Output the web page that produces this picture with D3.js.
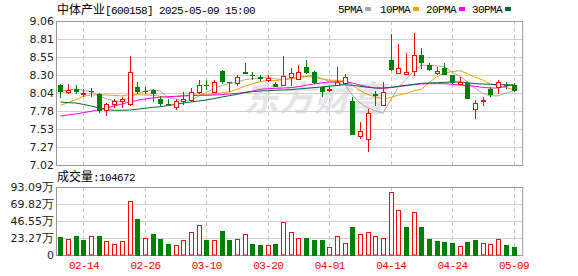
<!DOCTYPE html>
<html>
<head>
<meta charset="utf-8">
<script src="https://cdn.jsdelivr.net/npm/d3@7"></script>
<style>
  body { margin: 0; background: #fff; }
  svg { display: block; }
</style>
</head>
<body>
<svg class="chart"></svg>
<script>
// trading days shown (60 sessions)
var dates = ["02-11","02-12","02-13","02-14","02-17","02-18","02-19","02-20","02-21","02-24",
  "02-25","02-26","02-27","02-28","03-03","03-04","03-05","03-06","03-07","03-10",
  "03-11","03-12","03-13","03-14","03-17","03-18","03-19","03-20","03-21","03-24",
  "03-25","03-26","03-27","03-28","03-31","04-01","04-02","04-03","04-07","04-08",
  "04-09","04-10","04-11","04-14","04-15","04-16","04-17","04-18","04-21","04-22",
  "04-23","04-24","04-25","04-28","04-29","04-30","05-06","05-07","05-08","05-09"];

var openP = [8.16,8.05,8.10,8.02,8.07,8.03,7.80,7.89,7.92,7.88,
  8.12,8.07,8.08,7.96,7.89,7.84,7.93,7.94,8.06,8.15,
  8.06,8.35,8.19,8.18,8.34,8.30,8.27,8.22,8.17,8.16,
  8.27,8.24,8.41,8.34,8.12,8.08,8.15,8.18,7.93,7.43,
  7.39,8.02,7.87,8.51,8.33,8.31,8.35,8.58,8.43,8.32,
  8.40,8.29,8.17,8.18,7.82,7.92,8.09,8.12,8.16,8.16];
var highP = [8.17,8.17,8.16,8.10,8.11,8.04,7.90,7.96,7.99,8.56,
  8.20,8.13,8.10,8.00,7.96,7.96,8.06,8.11,8.23,8.22,
  8.23,8.36,8.20,8.29,8.46,8.34,8.30,8.30,8.20,8.56,
  8.39,8.43,8.51,8.35,8.14,8.14,8.41,8.31,7.98,7.63,
  7.81,8.07,8.20,8.87,8.74,8.61,8.89,8.68,8.47,8.41,
  8.46,8.30,8.27,8.20,7.94,7.98,8.12,8.23,8.20,8.18];
var lowP = [7.97,8.03,8.02,7.99,7.98,7.75,7.72,7.83,7.83,7.86,
  8.03,8.02,7.91,7.86,7.85,7.80,7.87,7.91,8.02,8.08,
  8.04,8.17,8.05,8.14,8.31,8.23,8.21,8.20,8.12,8.14,
  8.14,8.23,8.31,8.17,7.99,8.06,8.14,8.17,7.44,7.39,
  7.20,7.86,7.85,8.35,8.31,8.29,8.28,8.38,8.35,8.29,
  8.29,8.17,8.16,7.96,7.67,7.86,7.99,8.03,8.10,8.06];
var closeP = [8.06,8.08,8.06,8.04,8.05,7.78,7.88,7.92,7.96,8.34,
  8.05,8.06,8.02,7.89,7.87,7.93,7.95,8.06,8.16,8.14,
  8.20,8.19,8.18,8.27,8.31,8.28,8.24,8.25,8.12,8.28,
  8.32,8.34,8.33,8.18,8.06,8.10,8.20,8.27,7.44,7.50,
  7.76,8.00,8.06,8.37,8.39,8.34,8.58,8.47,8.37,8.35,
  8.30,8.18,8.19,7.96,7.90,7.94,8.01,8.20,8.14,8.07];

// volume, 万手
var volume = [24.5,21.8,25.9,20.4,25.4,25.9,19.1,14.5,19.1,74.5,
  49.1,22.7,28.6,21.8,15.0,13.2,20.4,31.3,40.4,20.4,
  20.4,32.7,20.4,21.8,28.6,15.0,13.6,13.2,15.0,45.0,
  31.3,22.7,23.2,20.4,20.4,10.4,25.4,15.9,38.2,28.6,
  31.3,25.4,22.7,86.8,62.2,38.2,59.5,38.2,21.8,19.1,
  17.7,16.4,11.8,17.7,20.4,15.9,14.5,21.4,13.6,10.4672];

var ma5 = [8.064,8.083,8.097,8.078,8.056,7.999,7.959,7.931,7.916,7.975,
  8.029,8.065,8.084,8.071,7.978,7.954,7.932,7.941,7.994,8.047,
  8.100,8.148,8.171,8.193,8.228,8.243,8.254,8.269,8.239,8.233,
  8.242,8.261,8.278,8.290,8.248,8.203,8.175,8.162,8.013,7.900,
  7.832,7.792,7.752,7.939,8.117,8.234,8.351,8.433,8.433,8.423,
  8.415,8.335,8.278,8.197,8.107,8.034,8.000,8.001,8.037,8.071];
var ma10 = [7.865,7.903,7.946,7.993,8.012,8.012,8.012,8.007,7.998,8.016,
  8.014,8.012,8.008,7.994,7.976,7.991,7.999,8.013,8.032,8.012,
  8.027,8.040,8.056,8.093,8.137,8.172,8.201,8.220,8.216,8.230,
  8.243,8.258,8.273,8.265,8.240,8.223,8.218,8.220,8.152,8.074,
  8.018,7.984,7.957,7.976,8.009,8.033,8.072,8.092,8.186,8.270,
  8.325,8.343,8.356,8.315,8.265,8.225,8.168,8.140,8.117,8.089];
var ma20 = [7.714,7.728,7.743,7.762,7.780,7.804,7.828,7.856,7.884,7.913,
  7.936,7.955,7.969,7.979,7.988,7.993,7.998,8.002,8.007,8.007,
  8.012,8.016,8.026,8.035,8.049,8.068,8.092,8.101,8.106,8.111,
  8.116,8.130,8.149,8.168,8.182,8.196,8.200,8.200,8.182,8.153,
  8.130,8.111,8.106,8.116,8.130,8.144,8.158,8.168,8.172,8.172,
  8.172,8.163,8.153,8.144,8.135,8.120,8.111,8.111,8.135,8.158];
var ma30 = [7.913,7.903,7.898,7.879,7.856,7.828,7.804,7.795,7.795,7.799,
  7.809,7.823,7.837,7.846,7.861,7.879,7.898,7.913,7.927,7.941,
  7.960,7.983,8.002,8.021,8.045,8.059,8.068,8.073,8.078,8.083,
  8.087,8.097,8.106,8.116,8.125,8.135,8.149,8.158,8.149,8.135,
  8.120,8.111,8.111,8.120,8.135,8.149,8.163,8.177,8.182,8.186,
  8.191,8.196,8.196,8.186,8.172,8.168,8.163,8.158,8.158,8.153];

var priceTicks = [9.06, 8.805, 8.55, 8.295, 8.04, 7.785, 7.53, 7.275, 7.02];
var priceLabels = ["9.06","8.81","8.55","8.30","8.04","7.78","7.53","7.27","7.02"];
var volTicks = [93.09, 69.82, 46.55, 23.27, 0];
var volLabels = ["93.09","69.82","46.55","23.27","0"];
var dateTicks = ["02-14","02-26","03-10","03-20","04-01","04-14","04-24","05-09"];

var maNames = ["5PMA","10PMA","20PMA","30PMA"];
var maColors = ["#a8a8a8","#f0a000","#ff00ff","#006a2c"];

var RED = "#ff0000", GREEN = "#008000";
var W = 578, H = 276;
var left = 56, right = 522.7;

var svg = d3.select(".chart").attr("width", W).attr("height", H);

var x = d3.scalePoint().domain(dates).range([60.4, 513.5]);
var y = d3.scaleLinear().domain([7.02, 9.06]).range([165, 21]);
var yv = d3.scaleLinear().domain([0, 93.09]).range([255, 187]);

var px = d => Math.round(x(d));
var crisp = v => Math.round(v) + 0.5;

// watermark
svg.append("text")
  .attr("transform", "translate(244,111) skewX(-14)")
  .attr("font-family", "Noto Sans CJK SC")
  .attr("font-weight", "bold")
  .attr("font-size", 35)
  .attr("fill", "#e4e4e8")
  .text("东方财富");

// ----- price grid -----
var grid = svg.append("g");
grid.selectAll(".hg").data(priceTicks).enter().append("line")
  .attr("x1", left).attr("x2", right)
  .attr("y1", d => crisp(y(d))).attr("y2", d => crisp(y(d)))
  .attr("stroke", "#d0d0d0");
grid.selectAll(".vg").data(dateTicks).enter().append("line")
  .attr("x1", d => px(d) + 0.5).attr("x2", d => px(d) + 0.5)
  .attr("y1", 21).attr("y2", 165)
  .attr("stroke", "#c8c8c8").attr("stroke-dasharray", "4,3");

// volume grid
grid.selectAll(".hv").data(volTicks).enter().append("line")
  .attr("x1", left).attr("x2", right)
  .attr("y1", d => crisp(yv(d))).attr("y2", d => crisp(yv(d)))
  .attr("stroke", "#d0d0d0");
grid.selectAll(".vv").data(dateTicks).enter().append("line")
  .attr("x1", d => px(d) + 0.5).attr("x2", d => px(d) + 0.5)
  .attr("y1", 187).attr("y2", 255)
  .attr("stroke", "#c8c8c8").attr("stroke-dasharray", "4,3");

// frames
svg.append("rect").attr("x", left + 0.5).attr("y", crisp(y(9.06)))
  .attr("width", right - left - 0.5).attr("height", crisp(y(7.02)) - crisp(y(9.06)))
  .attr("fill", "none").attr("stroke", "#999");
svg.append("rect").attr("x", left + 0.5).attr("y", crisp(yv(93.09)))
  .attr("width", right - left - 0.5).attr("height", crisp(yv(0)) - crisp(yv(93.09)))
  .attr("fill", "none").attr("stroke", "#999");

// ----- moving averages -----
[ma5, ma10, ma20, ma30].forEach(function(arr, k) {
  var line = d3.line().x((d, i) => x(dates[i])).y(d => y(d));
  svg.append("path").datum(arr)
    .attr("d", line)
    .attr("fill", "none")
    .attr("stroke", maColors[k])
    .attr("stroke-width", 1);
});

// ----- candles -----
var candle = svg.selectAll(".candle").data(dates).enter().append("g");

candle.append("line")
  .attr("x1", d => px(d) + 0.5).attr("x2", d => px(d) + 0.5)
  .attr("y1", (d, i) => Math.round(y(highP[i])))
  .attr("y2", (d, i) => Math.round(y(lowP[i])))
  .attr("stroke", (d, i) => closeP[i] >= openP[i] ? RED : GREEN);

candle.append("rect")
  .attr("x", (d, i) => closeP[i] >= openP[i] ? px(d) - 1.5 : px(d) - 2)
  .attr("width", (d, i) => closeP[i] >= openP[i] ? 4 : 5)
  .attr("y", (d, i) => {
    var t = Math.round(y(Math.max(openP[i], closeP[i])));
    return closeP[i] >= openP[i] ? t + 0.5 : t;
  })
  .attr("height", (d, i) => {
    var t = Math.round(y(Math.max(openP[i], closeP[i])));
    var b = Math.round(y(Math.min(openP[i], closeP[i])));
    return Math.max(b - t, 1);
  })
  .attr("fill", (d, i) => closeP[i] >= openP[i] ? "#fff" : GREEN)
  .attr("stroke", (d, i) => closeP[i] >= openP[i] ? RED : "none");

// ----- volume bars (colour by change vs previous close) -----
function volUp(i) {
  return i === 0 ? closeP[0] >= openP[0] : closeP[i] >= closeP[i - 1];
}
svg.selectAll(".vol").data(dates).enter().append("rect")
  .attr("x", (d, i) => volUp(i) ? px(d) - 1.5 : px(d) - 2)
  .attr("width", (d, i) => volUp(i) ? 4 : 5)
  .attr("y", (d, i) => Math.round(yv(volume[i])) + (volUp(i) ? 0.5 : 0))
  .attr("height", (d, i) => 255 - Math.round(yv(volume[i])) - (volUp(i) ? 0.5 : -1))
  .attr("fill", (d, i) => volUp(i) ? "#fff" : GREEN)
  .attr("stroke", (d, i) => volUp(i) ? RED : "none");

// ----- axes -----
var yAxis = g => g
  .attr("transform", "translate(" + (left - 2) + ",0)")
  .call(d3.axisLeft(y).tickValues(priceTicks).tickSize(0)
    .tickFormat((d, i) => priceLabels[i]))
  .call(g => g.select(".domain").remove())
  .call(g => g.selectAll("text")
    .attr("font-family", "DejaVu Sans").attr("font-size", 11)
    .attr("fill", "#222").attr("x", 0));
svg.append("g").call(yAxis);

var vAxis = g => g
  .attr("transform", "translate(" + (left - 2) + ",0)")
  .call(d3.axisLeft(yv).tickValues(volTicks).tickSize(0).tickFormat(""))
  .call(g => g.select(".domain").remove());
var vg = svg.append("g").call(vAxis);
vg.selectAll(".tick").each(function(d, i) {
  var t = d3.select(this).select("text")
    .attr("x", 0).attr("fill", "#222").attr("font-family", "DejaVu Sans").attr("font-size", 11);
  t.append("tspan").text(volLabels[i]);
  if (d > 0) t.append("tspan").attr("font-size", 12).text("万");
});

var xAxis = g => g
  .attr("transform", "translate(0,258)")
  .call(d3.axisBottom(x).tickValues(dateTicks).tickSize(0))
  .call(g => g.select(".domain").remove())
  .call(g => g.selectAll("text")
    .attr("font-family", "Liberation Mono").attr("font-size", 11)
    .attr("letter-spacing", "-0.6px")
    .attr("fill", RED).attr("dy", "0.71em").attr("y", 3));
svg.append("g").call(xAxis);

// ----- titles -----
var title = svg.append("text").attr("x", 57).attr("y", 14).attr("fill", "#000");
title.append("tspan").attr("font-family", "Noto Sans CJK SC").attr("font-size", 12).text("中体产业");
title.append("tspan").attr("font-family", "Liberation Mono").attr("font-size", 11)
  .attr("letter-spacing", "-0.6px").text("[600158] 2025-05-09 15:00");

var volTitle = svg.append("text").attr("x", 57).attr("y", 181).attr("fill", "#000");
volTitle.append("tspan").attr("font-family", "Noto Sans CJK SC").attr("font-size", 12).text("成交量");
volTitle.append("tspan").attr("font-family", "Liberation Mono").attr("font-size", 11)
  .attr("letter-spacing", "-0.6px").text(":" + Math.round(volume[volume.length - 1] * 10000));

// legend
var legX = [338, 380, 426, 472];
var leg = svg.selectAll(".leg").data(maNames).enter().append("g")
  .attr("transform", (d, i) => "translate(" + legX[i] + ",0)");
leg.append("text").attr("y", 13)
  .attr("font-family", "Liberation Mono").attr("font-size", 11)
  .attr("letter-spacing", "-0.6px").attr("fill", "#000")
  .text(d => d);
leg.append("rect")
  .attr("x", d => d.length * 6 + 3).attr("y", 7)
  .attr("width", 6).attr("height", 4)
  .attr("fill", (d, i) => maColors[i]);
</script>
</body>
</html>
